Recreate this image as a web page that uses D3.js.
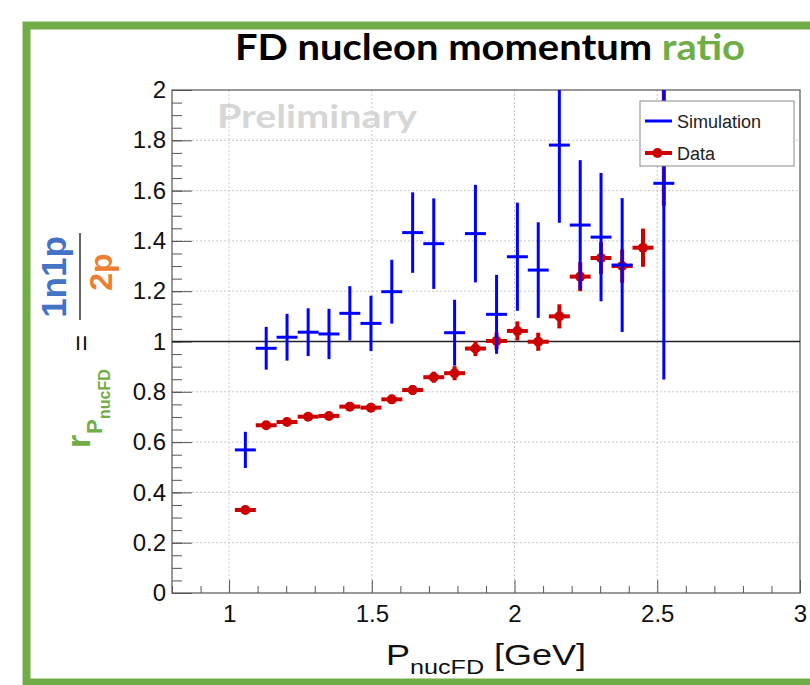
<!DOCTYPE html>
<html>
<head>
<meta charset="utf-8">
<script src="https://cdn.jsdelivr.net/npm/d3@7"></script>
<style>
  body { margin: 0; background: #fff; }
  svg { display: block; }
</style>
</head>
<body>
<div id="container"></div>
<script>
/* CONSTANTS AND GLOBALS */
const width = 810,
  height = 685,
  frame = { left: 172, right: 800, top: 90, bottom: 593 };

// bin centres (30 bins between 0.8 and 3), only the filled ones
const binCenters = [1.057, 1.130, 1.203, 1.277, 1.350, 1.423, 1.497, 1.570, 1.643, 1.717,
  1.790, 1.863, 1.937, 2.010, 2.083, 2.157, 2.230, 2.303, 2.377, 2.450, 2.523];
const binHalfWidth = 0.0367;

// simulation ratio + error (null = empty bin)
const simValues = [0.569, 0.973, 1.017, 1.037, 1.030, 1.112, 1.072, 1.198, 1.433, 1.389,
  1.035, 1.429, 1.108, 1.337, 1.284, 1.781, 1.463, 1.415, 1.304, null, 1.629];
const simErrors = [0.072, 0.085, 0.093, 0.095, 0.100, 0.108, 0.110, 0.127, 0.160, 0.180,
  0.131, 0.194, 0.157, 0.215, 0.190, 0.309, 0.258, 0.255, 0.266, null, 0.780];

// data ratio + error
const dataValues = [0.330, 0.667, 0.680, 0.701, 0.704, 0.741, 0.737, 0.770, 0.807, 0.858,
  0.874, 0.972, 1.002, 1.042, 0.999, 1.100, 1.258, 1.332, 1.300, 1.373, 2.10];
const dataErrors = [0.008, 0.010, 0.011, 0.012, 0.013, 0.015, 0.016, 0.018, 0.020, 0.022,
  0.028, 0.030, 0.034, 0.038, 0.036, 0.048, 0.058, 0.064, 0.066, 0.076, 0.56];

// axis ticks
const xMajorTicks = [1, 1.5, 2, 2.5, 3];
const xMinorTicks = [0.8, 0.9, 1.1, 1.2, 1.3, 1.4, 1.6, 1.7, 1.8, 1.9, 2.1, 2.2, 2.3, 2.4, 2.6, 2.7, 2.8, 2.9];
const yMajorTicks = [0, 0.2, 0.4, 0.6, 0.8, 1, 1.2, 1.4, 1.6, 1.8, 2];
const yMinorTicks = d3.range(0, 2.001, 0.05).map(d => +d.toFixed(2));
const yTickLabels = ["0", "0.2", "0.4", "0.6", "0.8", "1", "1.2", "1.4", "1.6", "1.8", "2"];
const xTickLabels = ["1", "1.5", "2", "2.5", "3"];

const legendItems = ["Simulation", "Data"];

const blue = "#0000ff",
  red = "#cc0000",
  green = "#70ad47";

const simData = binCenters.map((x, i) => ({ x, y: simValues[i], e: simErrors[i] })).filter(d => d.y !== null);
const dataData = binCenters.map((x, i) => ({ x, y: dataValues[i], e: dataErrors[i] }));

/* SCALES */
const xScale = d3.scaleLinear().domain([0.8, 3]).range([frame.left, frame.right]);
const yScale = d3.scaleLinear().domain([0, 2]).range([frame.bottom, frame.top]);

/* SVG */
const svg = d3.select("#container")
  .append("svg")
  .attr("width", width)
  .attr("height", height)
  .style("font-family", "'Liberation Sans', Arial, sans-serif");

svg.append("defs").append("clipPath")
  .attr("id", "plotClip")
  .append("rect")
  .attr("x", frame.left)
  .attr("y", frame.top)
  .attr("width", frame.right - frame.left)
  .attr("height", frame.bottom - frame.top);

// green slide border
svg.append("rect")
  .attr("x", 26.5)
  .attr("y", 25.5)
  .attr("width", 820)
  .attr("height", 657)
  .attr("fill", "none")
  .attr("stroke", green)
  .attr("stroke-width", 8);

// title
const title = svg.append("text")
  .attr("x", 490)
  .attr("y", 60)
  .attr("text-anchor", "middle")
  .attr("font-family", "Lato, 'Open Sans', sans-serif")
  .attr("font-weight", "bold")
  .attr("font-size", 36)
  .attr("textLength", 510)
  .attr("lengthAdjust", "spacingAndGlyphs")
  .attr("fill", "#000");
title.append("tspan").text("FD nucleon momentum ");
title.append("tspan").attr("fill", green).text("ratio");

/* GRID */
svg.append("g")
  .selectAll("line")
  .data(yMajorTicks.filter(d => d > 0 && d < 2 && d !== 1))
  .join("line")
  .attr("x1", frame.left)
  .attr("x2", frame.right)
  .attr("y1", d => yScale(d))
  .attr("y2", d => yScale(d))
  .attr("stroke", "#c8c8c8")
  .attr("stroke-width", 1)
  .attr("stroke-dasharray", "2,2");

svg.append("g")
  .selectAll("line")
  .data(xMajorTicks.filter(d => d < 3))
  .join("line")
  .attr("x1", d => xScale(d))
  .attr("x2", d => xScale(d))
  .attr("y1", frame.top)
  .attr("y2", frame.bottom)
  .attr("stroke", "#c8c8c8")
  .attr("stroke-width", 1)
  .attr("stroke-dasharray", "2,2");

// watermark
svg.append("text")
  .attr("x", 217)
  .attr("y", 128)
  .attr("font-family", "Lato, 'Open Sans', sans-serif")
  .attr("font-weight", "bold")
  .attr("font-size", 32)
  .attr("textLength", 200)
  .attr("lengthAdjust", "spacingAndGlyphs")
  .attr("fill", "#d6d6d6")
  .text("Preliminary");

/* AXES */
const styleAxis = g => {
  g.select(".domain").remove();
  g.selectAll(".tick line").attr("stroke", "#555").attr("stroke-width", 1);
  g.selectAll("text")
    .attr("font-family", "'Liberation Sans', Arial, sans-serif")
    .attr("font-size", 24)
    .attr("fill", "#111");
};

svg.append("g")
  .attr("transform", `translate(${frame.left},0)`)
  .call(d3.axisLeft(yScale).tickValues(yMinorTicks).tickSize(-10).tickFormat(""))
  .call(styleAxis);

svg.append("g")
  .attr("transform", `translate(${frame.left},0)`)
  .call(d3.axisLeft(yScale).tickValues(yMajorTicks).tickSize(-20).tickPadding(6)
    .tickFormat((d, i) => yTickLabels[i]))
  .call(styleAxis);

svg.append("g")
  .attr("transform", `translate(0,${frame.bottom})`)
  .call(d3.axisBottom(xScale).tickValues(xMinorTicks).tickSize(-7).tickFormat(""))
  .call(styleAxis);

svg.append("g")
  .attr("transform", `translate(0,${frame.bottom})`)
  .call(d3.axisBottom(xScale).tickValues(xMajorTicks).tickSize(-13).tickPadding(12)
    .tickFormat((d, i) => xTickLabels[i]))
  .call(styleAxis);

// frame
svg.append("rect")
  .attr("x", frame.left)
  .attr("y", frame.top)
  .attr("width", frame.right - frame.left)
  .attr("height", frame.bottom - frame.top)
  .attr("fill", "none")
  .attr("stroke", "#555")
  .attr("stroke-width", 1.2);

// reference line at 1
svg.append("line")
  .attr("x1", frame.left)
  .attr("x2", frame.right)
  .attr("y1", yScale(1))
  .attr("y2", yScale(1))
  .attr("stroke", "#222")
  .attr("stroke-width", 1.5);

/* POINTS */
const plot = svg.append("g").attr("clip-path", "url(#plotClip)");

// data (red) first
const dataG = plot.append("g").selectAll("g")
  .data(dataData)
  .join("g");
dataG.append("line")
  .attr("x1", d => xScale(d.x))
  .attr("x2", d => xScale(d.x))
  .attr("y1", d => yScale(d.y - d.e))
  .attr("y2", d => yScale(d.y + d.e))
  .attr("stroke", red)
  .attr("stroke-width", 4);
dataG.append("line")
  .attr("x1", d => xScale(d.x - binHalfWidth))
  .attr("x2", d => xScale(d.x + binHalfWidth))
  .attr("y1", d => yScale(d.y))
  .attr("y2", d => yScale(d.y))
  .attr("stroke", red)
  .attr("stroke-width", 4);
dataG.append("circle")
  .attr("cx", d => xScale(d.x))
  .attr("cy", d => yScale(d.y))
  .attr("r", 5)
  .attr("fill", red);

// simulation (blue) on top
const simG = plot.append("g").selectAll("g")
  .data(simData)
  .join("g");
simG.append("line")
  .attr("x1", d => xScale(d.x))
  .attr("x2", d => xScale(d.x))
  .attr("y1", d => yScale(d.y - d.e))
  .attr("y2", d => yScale(d.y + d.e))
  .attr("stroke", blue)
  .attr("stroke-width", 3);
simG.append("line")
  .attr("x1", d => xScale(d.x - binHalfWidth))
  .attr("x2", d => xScale(d.x + binHalfWidth))
  .attr("y1", d => yScale(d.y))
  .attr("y2", d => yScale(d.y))
  .attr("stroke", blue)
  .attr("stroke-width", 3);

/* LEGEND */
const legend = svg.append("g").attr("transform", "translate(640,101)");
legend.append("rect")
  .attr("width", 154)
  .attr("height", 65)
  .attr("fill", "#fff")
  .attr("stroke", "#888")
  .attr("stroke-width", 1);

const legendRow = legend.selectAll(".row")
  .data(legendItems)
  .join("g")
  .attr("class", "row")
  .attr("transform", (d, i) => `translate(0,${20 + i * 32})`);
legendRow.append("line")
  .attr("x1", 5)
  .attr("x2", 32)
  .attr("stroke", (d, i) => i === 0 ? blue : red)
  .attr("stroke-width", (d, i) => i === 0 ? 3 : 4);
legendRow.filter((d, i) => i === 1).append("circle")
  .attr("cx", 17.5)
  .attr("r", 5)
  .attr("fill", red);
legendRow.append("text")
  .attr("x", 37)
  .attr("y", 6.5)
  .attr("font-size", 18)
  .attr("fill", "#222")
  .text(d => d);

/* AXIS TITLES */
// the slide image is a little stretched sideways, so widen the x title
const xTitle = svg.append("text")
  .attr("transform", "translate(486,665) scale(1.2,1)")
  .attr("text-anchor", "middle")
  .attr("font-size", 30)
  .attr("fill", "#111");
xTitle.append("tspan").text("P");
xTitle.append("tspan").attr("font-size", 21).attr("dy", 9).text("nucFD");
xTitle.append("tspan").attr("dy", -9).text(" [GeV]");

// y title: r_{P_nucFD} = 1n1p / 2p, rotated
const yTitle = svg.append("g").attr("font-family", "'Liberation Sans', Arial, sans-serif").attr("font-weight", "bold");
const rotText = (x, y, txt, size, color, anchor, weight) => yTitle.append("text")
  .attr("transform", `translate(${x},${y}) rotate(-90)`)
  .attr("text-anchor", anchor)
  .attr("font-size", size)
  .attr("font-weight", weight || "bold")
  .attr("fill", color)
  .text(txt);

rotText(90, 448, "r", 34, green, "start");
rotText(102, 434, "P", 22, green, "start");
rotText(110, 419, "nucFD", 16, green, "start");
rotText(91, 343, "=", 28, "#111", "middle", "normal");
rotText(66, 277, "1n1p", 35, "#4472c4", "middle");
rotText(112, 272, "2p", 32, "#ed7d31", "middle");
yTitle.append("line")
  .attr("x1", 80)
  .attr("x2", 80)
  .attr("y1", 233)
  .attr("y2", 320)
  .attr("stroke", "#333")
  .attr("stroke-width", 1.5);
</script>
</body>
</html>
